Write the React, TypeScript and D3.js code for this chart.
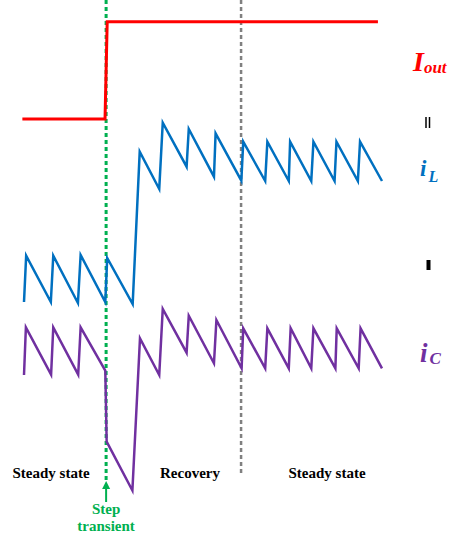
import React from "react";
import * as d3 from "d3";

// Time axis in microseconds, current axis in amperes (arbitrary offsets per trace)
const iOutTime = [-0.06, 2.99, 3.07, 13.06];
const iOutValue = [38.1, 38.1, 47.83, 47.83];

const iLTime = [0, 0.08, 0.99, 1.08, 1.99, 2.09, 3.0, 3.07, 4.01, 4.27, 4.99, 5.12, 6.0, 6.08, 7.01, 7.07, 8.02, 8.09, 8.9, 8.98, 9.77, 9.82, 10.6, 10.68, 11.46, 11.53, 12.32, 12.4, 13.21];
const iLValue = [19.8, 24.43, 19.8, 24.43, 19.7, 24.5, 19.8, 24.2, 19.6, 34.83, 31.1, 37.73, 33.33, 37.1, 32.33, 36.67, 31.93, 35.83, 31.9, 35.83, 31.9, 35.83, 31.9, 35.83, 31.9, 35.83, 31.9, 35.83, 31.9];

const iCTime = [0, 0.07, 1.0, 1.08, 2.0, 2.09, 3.0, 3.05, 4.0, 4.28, 4.99, 5.12, 6.0, 6.08, 7.01, 7.1, 8.03, 8.09, 8.9, 8.98, 9.77, 9.84, 10.6, 10.68, 11.49, 11.54, 12.35, 12.42, 13.21];
const iCValue = [12.5, 17.27, 12.53, 17.27, 12.53, 17.27, 12.93, 5.83, 0.95, 16.17, 12.5, 19.1, 14.73, 18.43, 13.67, 18.0, 13.17, 17.17, 13.17, 17.17, 13.17, 17.17, 13.17, 17.17, 13.17, 17.17, 13.17, 17.17, 13.17];

const stepTime = 3.03;
const recoveryEndTime = 8.01;

const phaseLabels = ["Steady state", "Recovery", "Steady state"];
const phaseLabelX = [12.5, 160, 288.5];

const W = 449;
const H = 537;

const RED = "#ff0000";
const BLUE = "#0070c0";
const PURPLE = "#7030a0";
const GREEN = "#00b050";
const GRAY = "#808080";

export default function App() {
  const x = d3.scaleLinear().domain([0, 10]).range([24, 295]);
  const y = d3.scaleLinear().domain([0, 50]).range([500, 0]);

  const line = d3
    .line<[number, number]>()
    .x((d) => x(d[0]))
    .y((d) => y(d[1]));

  const zip = (t: number[], v: number[]) =>
    t.map((tt, i) => [tt, v[i]] as [number, number]);

  const serif = "'Liberation Serif', 'Times New Roman', serif";
  const xs = x(stepTime);
  const xr = x(recoveryEndTime);

  return (
    <svg
      width={W}
      height={H}
      viewBox={`0 0 ${W} ${H}`}
      style={{ position: "absolute", left: 0, top: 0, background: "#fff" }}
    >
      <rect width={W} height={H} fill="#fff" />

      {/* phase boundaries */}
      <line x1={xs} x2={xs} y1={0} y2={480} stroke={GREEN} strokeWidth={3} strokeDasharray="4 3" />
      <line x1={xr} x2={xr} y1={0} y2={475} stroke={GRAY} strokeWidth={2.5} strokeDasharray="4 3" />

      {/* waveforms */}
      <path d={line(zip(iOutTime, iOutValue)) || ""} fill="none" stroke={RED} strokeWidth={3} />
      <path d={line(zip(iLTime, iLValue)) || ""} fill="none" stroke={BLUE} strokeWidth={2.5} />
      <path d={line(zip(iCTime, iCValue)) || ""} fill="none" stroke={PURPLE} strokeWidth={2.5} />

      {/* trace labels */}
      <text x={413} y={71} fill={RED} fontFamily={serif} fontWeight="bold" fontStyle="italic" fontSize={28}>
        I<tspan fontSize={17} dy={2}>out</tspan>
      </text>
      <line x1={426} x2={426} y1={117} y2={128} stroke="#000" strokeWidth={1.5} />
      <line x1={429.5} x2={429.5} y1={117} y2={128} stroke="#000" strokeWidth={1.5} />
      <text x={420} y={176} fill={BLUE} fontFamily={serif} fontWeight="bold" fontStyle="italic" fontSize={23}>
        i<tspan fontSize={16} dx={2} dy={5.5}>L</tspan>
      </text>
      <rect x={426.5} y={260} width={4} height={10} fill="#000" />
      <text x={420} y={362} fill={PURPLE} fontFamily={serif} fontWeight="bold" fontStyle="italic" fontSize={27}>
        i<tspan fontSize={17} dx={2} dy={1.5}>C</tspan>
      </text>

      {/* phase labels */}
      {phaseLabels.map((s, i) => (
        <text key={i} x={phaseLabelX[i]} y={478} fontFamily={serif} fontWeight="bold" fontSize={15} fill="#000">
          {s}
        </text>
      ))}

      {/* step marker */}
      <line x1={xs} x2={xs} y1={502} y2={487} stroke={GREEN} strokeWidth={2} />
      <polygon points={`${xs},481 ${xs - 4},489 ${xs + 4},489`} fill={GREEN} />
      <text x={xs} y={514} textAnchor="middle" fontFamily={serif} fontWeight="bold" fontSize={15} fill={GREEN}>
        Step
      </text>
      <text x={xs} y={531} textAnchor="middle" fontFamily={serif} fontWeight="bold" fontSize={15} fill={GREEN}>
        transient
      </text>
    </svg>
  );
}
